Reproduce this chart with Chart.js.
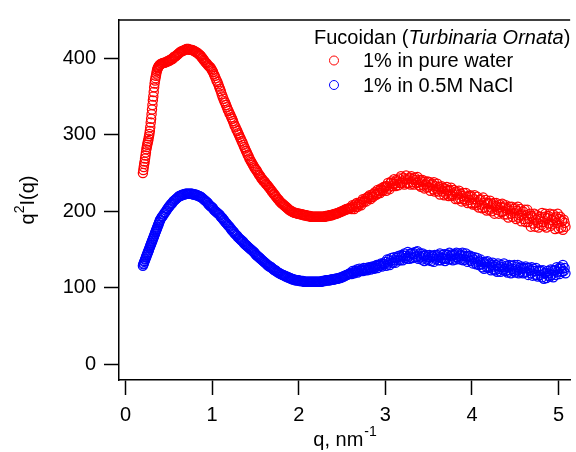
<!DOCTYPE html>
<html>
<head>
<meta charset="utf-8">
<script src="https://cdn.jsdelivr.net/npm/chart.js@4.4.0/dist/chart.umd.min.js"></script>
<style>
  html, body { margin: 0; padding: 0; background: #fff; }
  #chart { display: block; }
</style>
</head>
<body>
<canvas id="chart" width="576" height="452"></canvas>
<script>
// q values (nm^-1); finer steps on the steep start
const q = [
  0.200, 0.205, 0.210, 0.215, 0.220, 0.225, 0.230, 0.235, 0.240, 0.245,
  0.250, 0.255, 0.260, 0.265, 0.270, 0.275, 0.280, 0.285, 0.290, 0.295,
  0.300, 0.305, 0.310, 0.315, 0.320, 0.325, 0.330, 0.335, 0.340, 0.345,
  0.350, 0.355, 0.360, 0.365, 0.370, 0.375, 0.380, 0.385, 0.390, 0.395,
  0.40, 0.41, 0.42, 0.43, 0.44, 0.45, 0.46, 0.47, 0.48, 0.49,
  0.50, 0.51, 0.52, 0.53, 0.54, 0.55, 0.56, 0.57, 0.58, 0.59,
  0.60, 0.61, 0.62, 0.63, 0.64, 0.65, 0.66, 0.67, 0.68, 0.69,
  0.70, 0.71, 0.72, 0.73, 0.74, 0.75, 0.76, 0.77, 0.78, 0.79,
  0.80, 0.81, 0.82, 0.83, 0.84, 0.85, 0.86, 0.87, 0.88, 0.89,
  0.90, 0.91, 0.92, 0.93, 0.94, 0.95, 0.96, 0.97, 0.98, 0.99,
  1.00, 1.01, 1.02, 1.03, 1.04, 1.05, 1.06, 1.07, 1.08, 1.09,
  1.10, 1.11, 1.12, 1.13, 1.14, 1.15, 1.16, 1.17, 1.18, 1.19,
  1.20, 1.21, 1.22, 1.23, 1.24, 1.25, 1.26, 1.27, 1.28, 1.29,
  1.30, 1.31, 1.32, 1.33, 1.34, 1.35, 1.36, 1.37, 1.38, 1.39,
  1.40, 1.41, 1.42, 1.43, 1.44, 1.45, 1.46, 1.47, 1.48, 1.49,
  1.50, 1.51, 1.52, 1.53, 1.54, 1.55, 1.56, 1.57, 1.58, 1.59,
  1.60, 1.61, 1.62, 1.63, 1.64, 1.65, 1.66, 1.67, 1.68, 1.69,
  1.70, 1.71, 1.72, 1.73, 1.74, 1.75, 1.76, 1.77, 1.78, 1.79,
  1.80, 1.81, 1.82, 1.83, 1.84, 1.85, 1.86, 1.87, 1.88, 1.89,
  1.90, 1.91, 1.92, 1.93, 1.94, 1.95, 1.96, 1.97, 1.98, 1.99,
  2.00, 2.01, 2.02, 2.03, 2.04, 2.05, 2.06, 2.07, 2.08, 2.09,
  2.10, 2.11, 2.12, 2.13, 2.14, 2.15, 2.16, 2.17, 2.18, 2.19,
  2.20, 2.21, 2.22, 2.23, 2.24, 2.25, 2.26, 2.27, 2.28, 2.29,
  2.30, 2.31, 2.32, 2.33, 2.34, 2.35, 2.36, 2.37, 2.38, 2.39,
  2.40, 2.41, 2.42, 2.43, 2.44, 2.45, 2.46, 2.47, 2.48, 2.49,
  2.50, 2.51, 2.52, 2.53, 2.54, 2.55, 2.56, 2.57, 2.58, 2.59,
  2.60, 2.61, 2.62, 2.63, 2.64, 2.65, 2.66, 2.67, 2.68, 2.69,
  2.70, 2.71, 2.72, 2.73, 2.74, 2.75, 2.76, 2.77, 2.78, 2.79,
  2.80, 2.81, 2.82, 2.83, 2.84, 2.85, 2.86, 2.87, 2.88, 2.89,
  2.90, 2.91, 2.92, 2.93, 2.94, 2.95, 2.96, 2.97, 2.98, 2.99,
  3.00, 3.01, 3.02, 3.03, 3.04, 3.05, 3.06, 3.07, 3.08, 3.09,
  3.10, 3.11, 3.12, 3.13, 3.14, 3.15, 3.16, 3.17, 3.18, 3.19,
  3.20, 3.21, 3.22, 3.23, 3.24, 3.25, 3.26, 3.27, 3.28, 3.29,
  3.30, 3.31, 3.32, 3.33, 3.34, 3.35, 3.36, 3.37, 3.38, 3.39,
  3.40, 3.41, 3.42, 3.43, 3.44, 3.45, 3.46, 3.47, 3.48, 3.49,
  3.50, 3.51, 3.52, 3.53, 3.54, 3.55, 3.56, 3.57, 3.58, 3.59,
  3.60, 3.61, 3.62, 3.63, 3.64, 3.65, 3.66, 3.67, 3.68, 3.69,
  3.70, 3.71, 3.72, 3.73, 3.74, 3.75, 3.76, 3.77, 3.78, 3.79,
  3.80, 3.81, 3.82, 3.83, 3.84, 3.85, 3.86, 3.87, 3.88, 3.89,
  3.90, 3.91, 3.92, 3.93, 3.94, 3.95, 3.96, 3.97, 3.98, 3.99,
  4.00, 4.01, 4.02, 4.03, 4.04, 4.05, 4.06, 4.07, 4.08, 4.09,
  4.10, 4.11, 4.12, 4.13, 4.14, 4.15, 4.16, 4.17, 4.18, 4.19,
  4.20, 4.21, 4.22, 4.23, 4.24, 4.25, 4.26, 4.27, 4.28, 4.29,
  4.30, 4.31, 4.32, 4.33, 4.34, 4.35, 4.36, 4.37, 4.38, 4.39,
  4.40, 4.41, 4.42, 4.43, 4.44, 4.45, 4.46, 4.47, 4.48, 4.49,
  4.50, 4.51, 4.52, 4.53, 4.54, 4.55, 4.56, 4.57, 4.58, 4.59,
  4.60, 4.61, 4.62, 4.63, 4.64, 4.65, 4.66, 4.67, 4.68, 4.69,
  4.70, 4.71, 4.72, 4.73, 4.74, 4.75, 4.76, 4.77, 4.78, 4.79,
  4.80, 4.81, 4.82, 4.83, 4.84, 4.85, 4.86, 4.87, 4.88, 4.89,
  4.90, 4.91, 4.92, 4.93, 4.94, 4.95, 4.96, 4.97, 4.98, 4.99,
  5.00, 5.01, 5.02, 5.03, 5.04, 5.05, 5.06, 5.07, 5.08
];

// q^2 I(q), 1% in pure water
const pureWater = [
  250, 254, 258, 262, 265, 269, 273, 277, 281, 284,
  287, 290, 292, 295, 298, 301, 305, 310, 316, 321,
  327, 333, 339, 345, 350, 356, 362, 367, 371, 374,
  377, 380, 383, 385, 387, 388, 389, 390, 391, 391,
  392, 393, 393, 394, 394, 394, 395, 395, 396, 396,
  397, 397, 398, 399, 399, 400, 402, 402, 403, 404,
  405, 406, 407, 408, 409, 409, 410, 410, 411, 411,
  412, 412, 412, 412, 411, 411, 411, 411, 410, 410,
  409, 408, 408, 407, 406, 405, 404, 403, 401, 400,
  398, 397, 395, 394, 393, 391, 390, 389, 388, 386,
  384, 382, 379, 377, 374, 371, 369, 366, 363, 360,
  357, 353, 350, 347, 344, 342, 339, 336, 333, 331,
  328, 326, 323, 321, 318, 315, 312, 310, 307, 305,
  302, 300, 297, 295, 292, 290, 287, 284, 282, 279,
  277, 274, 272, 269, 267, 265, 263, 261, 259, 257,
  255, 254, 252, 250, 248, 247, 245, 243, 242, 240,
  239, 238, 236, 235, 234, 232, 231, 229, 228, 226,
  225, 223, 222, 220, 219, 217, 216, 215, 213, 212,
  211, 210, 209, 208, 207, 206, 205, 204, 203, 202,
  201, 201, 200, 199, 199, 198, 198, 198, 197, 197,
  197, 197, 196, 196, 196, 196, 195, 195, 195, 195,
  194, 194, 194, 194, 193, 193, 193, 193, 193, 193,
  193, 193, 193, 193, 193, 193, 193, 193, 193, 193,
  193, 194, 194, 194, 194, 195, 195, 195, 195, 196,
  196, 196, 197, 197, 197, 198, 198, 199, 199, 200,
  200, 201, 201, 202, 202, 203, 203, 203, 204, 204,
  205, 203, 208, 206, 203, 209, 206, 211, 206, 210,
  209, 212, 208, 213, 216, 212, 214, 217, 213, 218,
  219, 217, 221, 216, 219, 222, 219, 223, 225, 222,
  222, 228, 224, 227, 224, 230, 228, 227, 232, 231,
  233, 227, 233, 237, 231, 229, 237, 239, 233, 236,
  242, 236, 233, 241, 239, 234, 243, 237, 246, 237,
  239, 244, 235, 242, 247, 237, 242, 237, 244, 235,
  246, 238, 242, 235, 244, 241, 237, 245, 238, 234,
  241, 232, 239, 241, 234, 230, 239, 235, 231, 239,
  232, 238, 227, 234, 236, 229, 238, 226, 233, 229,
  236, 226, 232, 222, 229, 233, 226, 231, 221, 229,
  223, 232, 227, 220, 228, 222, 231, 220, 222, 228,
  225, 216, 226, 222, 216, 227, 217, 223, 213, 220,
  224, 216, 214, 224, 219, 211, 220, 215, 221, 211,
  219, 209, 216, 221, 211, 208, 219, 212, 205, 215,
  216, 209, 204, 218, 211, 205, 215, 201, 210, 211,
  202, 214, 205, 200, 209, 211, 197, 207, 211, 202,
  205, 197, 209, 206, 199, 210, 200, 196, 205, 208,
  196, 203, 192, 206, 201, 197, 206, 193, 203, 198,
  204, 190, 201, 206, 192, 195, 203, 187, 196, 200,
  190, 202, 186, 195, 202, 186, 190, 197, 180, 194,
  192, 184, 197, 180, 189, 195, 185, 179, 193, 190,
  182, 198, 186, 181, 193, 197, 179, 191, 194, 184,
  197, 181, 189, 183, 196, 191, 177, 193, 185, 197,
  178, 190, 193, 179, 187, 176, 189, 185, 180
];

// q^2 I(q), 1% in 0.5M NaCl
const nacl = [
  129, 131, 132, 134, 135, 137, 138, 140, 141, 143,
  144, 146, 147, 149, 150, 152, 153, 155, 156, 158,
  159, 161, 162, 164, 165, 167, 168, 170, 171, 173,
  174, 176, 177, 179, 180, 182, 183, 185, 186, 188,
  189, 191, 193, 194, 196, 198, 199, 201, 203, 204,
  206, 207, 209, 210, 211, 213, 214, 215, 216, 217,
  218, 219, 220, 220, 221, 221, 222, 222, 222, 223,
  223, 223, 223, 223, 223, 223, 223, 223, 222, 222,
  222, 222, 221, 221, 220, 220, 219, 219, 218, 217,
  216, 215, 214, 213, 212, 211, 209, 208, 207, 206,
  205, 204, 202, 201, 200, 199, 198, 197, 196, 195,
  193, 192, 191, 189, 188, 186, 185, 184, 182, 181,
  180, 178, 177, 175, 174, 173, 171, 170, 169, 168,
  166, 165, 164, 163, 162, 161, 160, 158, 157, 156,
  155, 154, 153, 152, 151, 150, 149, 148, 147, 146,
  144, 143, 142, 141, 140, 139, 138, 137, 136, 135,
  134, 133, 132, 131, 130, 129, 128, 128, 127, 126,
  125, 124, 123, 123, 122, 121, 120, 120, 119, 118,
  118, 117, 117, 116, 116, 115, 115, 114, 114, 113,
  113, 112, 112, 111, 111, 111, 110, 110, 110, 110,
  110, 109, 109, 109, 109, 109, 108, 108, 108, 108,
  108, 108, 108, 108, 108, 108, 108, 108, 108, 108,
  108, 108, 108, 108, 108, 108, 108, 109, 109, 109,
  109, 110, 110, 110, 110, 110, 110, 111, 111, 111,
  111, 111, 112, 112, 112, 112, 113, 113, 113, 114,
  114, 115, 115, 116, 116, 117, 117, 118, 118, 119,
  120, 118, 122, 120, 119, 122, 121, 124, 120, 122,
  125, 122, 123, 124, 122, 126, 123, 124, 126, 123,
  124, 127, 126, 124, 127, 128, 126, 125, 127, 129,
  130, 126, 130, 129, 129, 132, 128, 132, 131, 131,
  134, 129, 137, 132, 137, 130, 135, 139, 133, 133,
  140, 136, 133, 139, 141, 136, 142, 136, 140, 143,
  136, 142, 145, 139, 142, 138, 147, 141, 138, 145,
  145, 139, 146, 144, 140, 147, 141, 148, 138, 142,
  145, 140, 137, 145, 142, 135, 142, 143, 137, 140,
  136, 143, 140, 135, 142, 141, 134, 143, 138, 141,
  143, 136, 140, 145, 136, 139, 143, 138, 144, 135,
  138, 144, 143, 137, 146, 138, 142, 144, 136, 143,
  144, 137, 146, 140, 138, 145, 142, 137, 143, 146,
  136, 142, 137, 145, 141, 134, 142, 137, 142, 135,
  140, 132, 137, 140, 133, 131, 139, 134, 130, 135,
  137, 131, 127, 134, 125, 132, 134, 127, 135, 126,
  128, 132, 123, 130, 133, 124, 128, 123, 130, 121,
  132, 125, 128, 121, 130, 127, 123, 132, 125, 122,
  129, 120, 127, 130, 123, 119, 129, 125, 122, 130,
  120, 127, 123, 130, 119, 126, 121, 128, 125, 119,
  126, 120, 128, 121, 126, 117, 126, 123, 119, 127,
  116, 125, 122, 117, 126, 117, 115, 122, 123, 117,
  122, 114, 123, 112, 119, 120, 113, 122, 116, 119,
  115, 124, 117, 123, 114, 123, 123, 117, 127, 121,
  125, 118, 127, 125, 121, 130, 122, 126, 119
];

const xTicks = [0, 1, 2, 3, 4, 5];
const yTicks = [0, 100, 200, 300, 400];
const seriesNames = ['1% in pure water', '1% in 0.5M NaCl'];
const seriesColors = ['rgb(255,0,0)', 'rgb(0,0,255)'];

const FONT = '"Liberation Sans", Arial, sans-serif';

function toPoints(ys) {
  return ys.map((y, i) => ({ x: q[i], y: y }));
}

// top frame line, axis titles with superscripts, legend
const decorPlugin = {
  id: 'decor',
  afterDraw(chart) {
    const ctx = chart.ctx;
    const a = chart.chartArea;
    ctx.save();

    ctx.strokeStyle = '#000';
    ctx.lineWidth = 1.5;
    ctx.beginPath();
    ctx.moveTo(a.left, a.top);
    ctx.lineTo(a.right, a.top);
    ctx.stroke();

    ctx.fillStyle = '#000';
    ctx.textBaseline = 'alphabetic';
    ctx.textAlign = 'left';

    const big = '20px ' + FONT;
    const small = '14px ' + FONT;

    // x title: q, nm^-1
    ctx.font = big;
    const w1 = ctx.measureText('q, nm').width;
    ctx.font = small;
    const w2 = ctx.measureText('-1').width;
    let x0 = (a.left + a.right) / 2 - (w1 + w2) / 2;
    ctx.font = big;
    ctx.fillText('q, nm', x0, 446);
    ctx.font = small;
    ctx.fillText('-1', x0 + w1 + 1, 436);

    // y title: q^2 I(q)
    ctx.save();
    ctx.translate(34, (a.top + a.bottom) / 2);
    ctx.rotate(-Math.PI / 2);
    ctx.font = big;
    const wq = ctx.measureText('q').width;
    const wr = ctx.measureText('I(q)').width;
    ctx.font = small;
    const ws = ctx.measureText('2').width;
    x0 = -(wq + ws + wr) / 2;
    ctx.font = big;
    ctx.fillText('q', x0, 0);
    ctx.font = small;
    ctx.fillText('2', x0 + wq, -10);
    ctx.font = big;
    ctx.fillText('I(q)', x0 + wq + ws, 0);
    ctx.restore();

    // legend title, species name in italics
    let lx = 314;
    const parts = [
      ['Fucoidan (', big],
      ['Turbinaria Ornata', 'italic 20px ' + FONT],
      [')', big]
    ];
    parts.forEach(([t, f]) => {
      ctx.font = f;
      ctx.fillText(t, lx, 44);
      lx += ctx.measureText(t).width;
    });

    // legend rows
    ctx.font = big;
    ctx.lineWidth = 1;
    seriesNames.forEach((name, i) => {
      const cy = 60.5 + i * 24.5;
      ctx.strokeStyle = seriesColors[i];
      ctx.beginPath();
      ctx.arc(334, cy, 4.5, 0, Math.PI * 2);
      ctx.stroke();
      ctx.fillStyle = '#000';
      ctx.fillText(name, 363, cy + 6.5);
    });

    ctx.restore();
  }
};

const ctx = document.getElementById('chart').getContext('2d');

new Chart(ctx, {
  type: 'scatter',
  data: {
    datasets: [
      {
        label: seriesNames[0],
        data: toPoints(pureWater),
        borderColor: seriesColors[0],
        backgroundColor: 'rgba(0,0,0,0)',
        pointRadius: 4.6,
        pointBorderWidth: 1.25,
        showLine: false,
        clip: false
      },
      {
        label: seriesNames[1],
        data: toPoints(nacl),
        borderColor: seriesColors[1],
        backgroundColor: 'rgba(0,0,0,0)',
        pointRadius: 4.6,
        pointBorderWidth: 1.25,
        showLine: false,
        clip: false
      }
    ]
  },
  options: {
    responsive: false,
    animation: false,
    devicePixelRatio: 1,
    layout: { padding: { top: 16, left: 0, right: 0, bottom: 0 } },
    plugins: {
      legend: { display: false },
      tooltip: { enabled: false }
    },
    scales: {
      x: {
        type: 'linear',
        min: -0.076,
        max: 5.134,
        afterFit: s => { s.height = 72; },
        afterBuildTicks: s => { s.ticks = xTicks.map(v => ({ value: v })); },
        border: { display: true, color: '#000', width: 1.5 },
        grid: { display: true, drawOnChartArea: false, drawTicks: true, tickLength: 15, tickColor: '#000', tickWidth: 1.5 },
        ticks: { color: '#000', font: { family: FONT, size: 20 }, padding: 8, maxRotation: 0 }
      },
      y: {
        type: 'linear',
        min: -20.3,
        max: 450,
        afterFit: s => { s.width = 119; },
        afterBuildTicks: s => { s.ticks = yTicks.map(v => ({ value: v })); },
        border: { display: true, color: '#000', width: 1.5 },
        grid: { display: true, drawOnChartArea: false, drawTicks: true, tickLength: 15, tickColor: '#000', tickWidth: 1.5 },
        ticks: { color: '#000', font: { family: FONT, size: 20 }, padding: 8 }
      }
    }
  },
  plugins: [decorPlugin]
});
</script>
</body>
</html>
